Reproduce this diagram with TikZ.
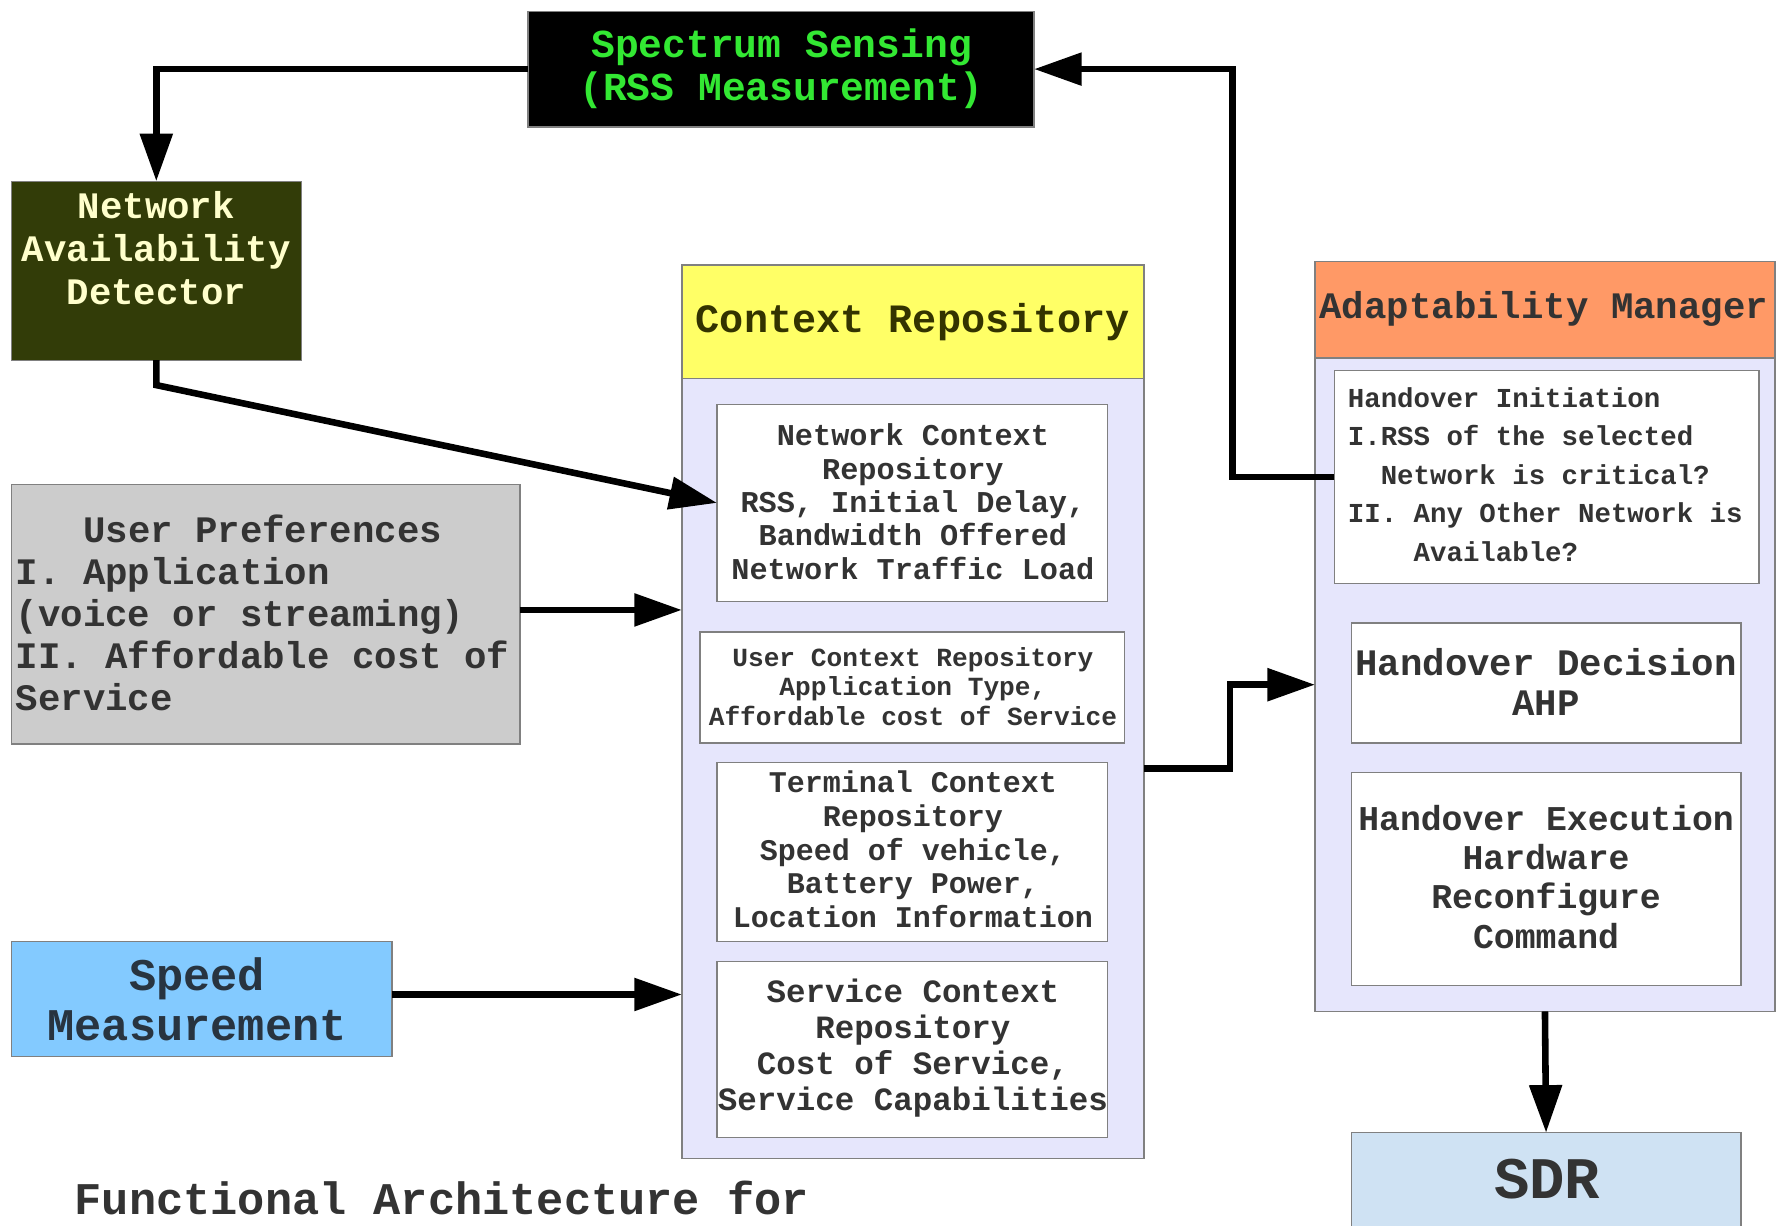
\documentclass[tikz,border=0pt]{standalone}
\usepackage{fontspec}
\setmainfont{Liberation Mono}
\usetikzlibrary{arrows.meta,calc}

\definecolor{sensegreen}{RGB}{51,232,51}
\definecolor{nadfill}{RGB}{50,60,8}
\definecolor{nadtext}{RGB}{255,255,204}
\definecolor{upfill}{RGB}{204,204,204}
\definecolor{smfill}{RGB}{131,202,255}
\definecolor{smtext}{RGB}{40,52,64}
\definecolor{crhead}{RGB}{255,255,102}
\definecolor{crheadtext}{RGB}{51,51,0}
\definecolor{lav}{RGB}{230,230,252}
\definecolor{amhead}{RGB}{255,153,102}
\definecolor{sdrfill}{RGB}{207,226,243}
\definecolor{txt}{RGB}{51,51,51}
\definecolor{boxline}{RGB}{128,128,128}

\begin{document}
\begin{tikzpicture}[x=1pt,y=-1pt,
  box/.style={draw=boxline, line width=1.2pt, inner sep=0pt, outer sep=0pt, anchor=north west},
  lbl/.style={inner sep=0pt, outer sep=0pt, text=txt, align=center},
  fs/.style 2 args={font=\bfseries\fontsize{#1}{#2}\selectfont},
  arr/.style={line width=5.8pt, draw=black, -{Triangle[length=42pt,width=28pt]}}
]
\useasboundingbox[fill=white] (0,0) rectangle (1568,1082);

% ---- boxes ----
\node[box, fill=black, minimum width=447pt, minimum height=102pt] (ss) at (466,10) {};
\node[box, fill=nadfill, minimum width=256pt, minimum height=158pt] (nad) at (10,160) {};
\node[box, fill=upfill, minimum width=449pt, minimum height=229pt] (up) at (10,428) {};
\node[box, fill=smfill, minimum width=336pt, minimum height=102pt] (sm) at (10,831) {};

% context repository
\node[box, fill=crhead, minimum width=408pt, minimum height=100pt] (crh) at (602,234) {};
\node[box, fill=lav, minimum width=408pt, minimum height=689pt] (crb) at (602,334) {};
\node[box, fill=white, minimum width=345pt, minimum height=174pt] (nc) at (633,357) {};
\node[box, fill=white, minimum width=375pt, minimum height=98pt] (uc) at (618,558) {};
\node[box, fill=white, minimum width=345pt, minimum height=158pt] (tc) at (633,673) {};
\node[box, fill=white, minimum width=345pt, minimum height=155pt] (sc) at (633,849) {};

% adaptability manager
\node[box, fill=amhead, minimum width=406pt, minimum height=85pt] (amh) at (1161,231) {};
\node[box, fill=lav, minimum width=406pt, minimum height=577pt] (amb) at (1161,316) {};
\node[box, fill=white, minimum width=375pt, minimum height=188pt] (hi) at (1178,327) {};
\node[box, fill=white, minimum width=344pt, minimum height=106pt] (hd) at (1193,550) {};
\node[box, fill=white, minimum width=344pt, minimum height=188pt] (he) at (1193,682) {};
\node[box, fill=sdrfill, minimum width=344pt, minimum height=110pt] (sdr) at (1193,1000) {};

% ---- texts ----
\node[lbl, fs={35}{38}, text=sensegreen] (sst) at (690,61) {Spectrum Sensing\\(RSS Measurement)};
\node[lbl, fs={33}{38}, text=nadtext] (nadt) at (138,219) {Network\\Availability\\Detector};
\node[lbl, fs={33}{37}, align=left, anchor=west] (upt) at (14,541)
  {~~~User Preferences\\I. Application\\(voice or streaming)\\II. Affordable cost of\\Service};
\node[lbl, fs={40}{44}, text=smtext] (smt) at (174,882) {Speed\\Measurement};

\node[lbl, fs={35.5}{40}, text=crheadtext] (crt) at (806,284) {Context Repository};
\node[lbl, fs={26.7}{29.5}] (nct) at (806,443)
  {Network Context\\Repository\\RSS, Initial Delay,\\Bandwidth Offered\\Network Traffic Load};
\node[lbl, fs={23.1}{26}] (uct) at (806,606)
  {User Context Repository\\Application Type,\\Affordable cost of Service};
\node[lbl, fs={26.5}{29.75}] (tct) at (806,750)
  {Terminal Context\\Repository\\Speed of vehicle,\\Battery Power,\\Location Information};
\node[lbl, fs={28.7}{31.7}] (sct) at (806,925.5)
  {Service Context\\Repository\\Cost of Service,\\Service Capabilities};

\node[lbl, fs={33}{36}] (amt) at (1363,273) {Adaptability Manager};
\node[lbl, fs={24.2}{34}, align=left, anchor=west] (hit) at (1190,419)
  {Handover Initiation\\I.RSS of the selected\\~~Network is critical?\\II. Any Other Network is\\~~~~Available?};
\node[lbl, fs={33}{36}] (hdt) at (1365,602) {Handover Decision\\AHP};
\node[lbl, fs={30.7}{34.7}] (het) at (1365,774)
  {Handover Execution\\Hardware\\Reconfigure\\Command};
\node[lbl, fs={52}{56}] (sdrt) at (1366,1041) {SDR};

\node[lbl, fs={40}{44}, anchor=west] (cap) at (66,1058) {Functional Architecture for};

% ---- connectors ----
\draw[arr] (ss.west) -| (nad.north);
\draw[arr] (hi.west) -- ++(-90,0) |- (ss.east);
\draw[arr] (nad.south) -- ++(0,22) -- (nc.west);
\draw[arr] ([yshift=4pt]up.east) -- ([yshift=4pt]up.east -| crb.west);
\draw[arr] ([yshift=4pt]sm.east) -- ([yshift=4pt]sm.east -| crb.west);
\draw[arr] (crb.east) -- ++(76,0) |- (amb.west);
\draw[arr] (amb.south) -- (sdr.north);
\end{tikzpicture}
\end{document}
